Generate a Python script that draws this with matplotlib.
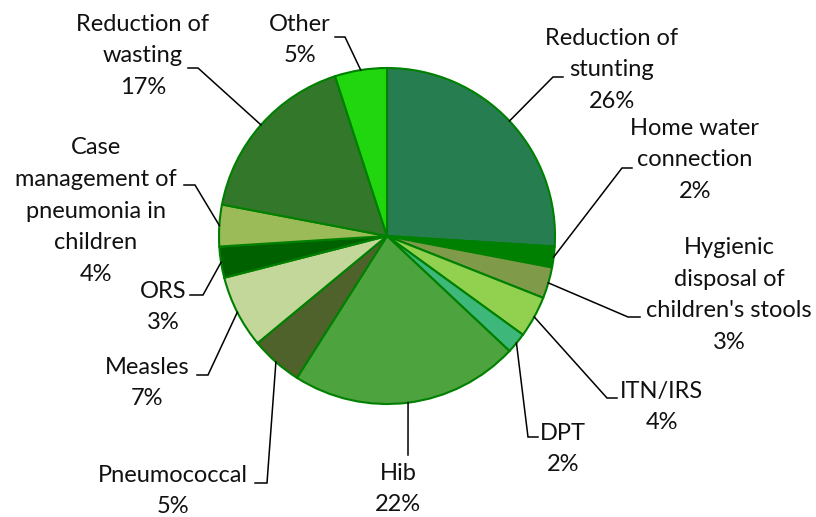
import numpy as np
import matplotlib.pyplot as plt

plt.rcParams['font.family'] = ['Lato', 'DejaVu Sans']

# share of deaths averted, by intervention (clockwise from 12 o'clock)
names = ['Reduction of\nstunting', 'Home water\nconnection',
         'Hygienic\ndisposal of\nchildren\'s stools', 'ITN/IRS', 'DPT', 'Hib',
         'Pneumococcal', 'Measles', 'ORS',
         'Case\nmanagement of\npneumonia in\nchildren',
         'Reduction of\nwasting', 'Other']
values = [26, 2, 3, 4, 2, 22, 5, 7, 3, 4, 17, 5]
colors = ['#267d50', '#008000', '#7f9b4a', '#92d050', '#3db87a', '#4da33e',
          '#4f622b', '#c4d79b', '#006100', '#9bbb59', '#33772a', '#22d60f']

# label placement in pixel space: text centre, elbow of leader, end of leader
text_xy = [(612, 70), (695, 160), (729, 295), (662, 407), (563, 449),
           (398, 489), (173, 491), (147, 383), (163, 307), (96, 211),
           (143, 56), (300, 40)]
elbow_xy = [(553, 77), (622, 168), (628, 317), (607, 398), (528, 437),
            (408, 455), (267, 483), (208, 375), (203, 295), (195, 185),
            (198, 68), (345, 37)]
end_xy = [(563, 77), (632, 168), (640, 317), (617, 398), (538, 437),
          (408, 455), (255, 483), (197, 375), (190, 295), (184, 185),
          (188, 68), (335, 37)]

cx, cy, r = 387, 236, 168

fig = plt.figure(figsize=(8.16, 5.17), dpi=100)
ax = fig.add_axes([0, 0, 1, 1])

# y axis is flipped, so counter-clockwise in data is clockwise on screen
ax.pie(values, colors=colors, startangle=-90, center=(cx, cy), radius=r,
       wedgeprops=dict(edgecolor='#008000', linewidth=1.5), frame=True)
ax.set_xlim(0, 816)
ax.set_ylim(517, 0)
ax.set_aspect('equal')
ax.axis('off')

total = float(sum(values))
cum = 0.0
for i, v in enumerate(values):
    mid = (cum + v / 2) / total * 2 * np.pi
    cum += v
    sx = cx + r * np.sin(mid)
    sy = cy - r * np.cos(mid)
    ex, ey = elbow_xy[i]
    tx, ty = end_xy[i]
    ax.plot([sx, ex, tx], [sy, ey, ty], color='black', lw=1.1,
            solid_joinstyle='miter')
    ax.text(text_xy[i][0], text_xy[i][1], f'{names[i]}\n{v}%',
            ha='center', va='center', fontsize=17, linespacing=1.63,
            color='#111111')

fig.savefig('out.png', dpi=100)
